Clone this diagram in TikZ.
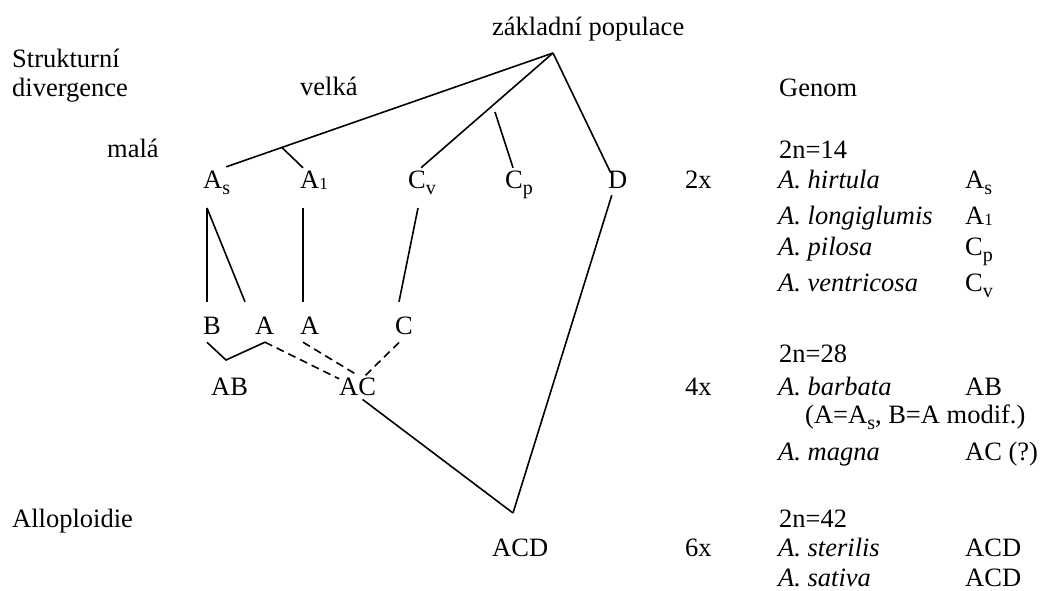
\documentclass[tikz,border=0pt]{standalone}
\usepackage{fontspec}
\setmainfont{Liberation Serif}
\usetikzlibrary{calc}
\newcommand{\gen}[2]{#1\raisebox{-6.5pt}{\fontsize{20}{20}\selectfont #2}}
\newcommand{\Aeins}{A\raisebox{-1.5pt}{\fontsize{17}{17}\selectfont 1}}

\begin{document}
\begin{tikzpicture}[x=1pt, y=-1pt,
        txt/.style={anchor=base west, inner sep=0pt, font=\fontsize{26.5}{30}\selectfont},
        spec/.style={txt, font=\fontsize{26.5}{30}\selectfont\itshape},
        edge/.style={line width=1.6pt},
        hybrid/.style={edge, dash pattern=on 8pt off 5pt}
    ]
        \useasboundingbox (0,0) rectangle (1045,590);

        % headings
        \node[txt] (zakl) at (492,35) {základní populace};
        \node[txt] (strukt) at (12,67) {Strukturní};
        \node[txt] (diverg) at (12,96) {divergence};
        \node[txt] (velka) at (300,95) {velká};
        \node[txt] (mala) at (107,157) {malá};
        \node[txt] (allo) at (12,527) {Alloploidie};
        \node[txt] (genom) at (779,96) {Genom};

        % diploid row
        \node[txt] (As) at (203,188) {\gen{A}{s}};
        \node[txt] (Aone) at (300,188) {\Aeins};
        \node[txt] (Cv) at (408,188) {\gen{C}{v}};
        \node[txt] (Cp) at (505,188) {\gen{C}{p}};
        \node[txt] (D) at (608,188) {D};

        % intermediate genomes
        \node[txt] (B) at (203,334) {B};
        \node[txt] (Aa) at (255,334) {A};
        \node[txt] (Ab) at (300,334) {A};
        \node[txt] (C) at (395,334) {C};
        \node[txt] (AB) at (211,395) {AB};
        \node[txt] (AC) at (339,395) {AC};
        \node[txt] (ACD) at (492,556) {ACD};

        % ploidy levels
        \node[txt] (twox) at (685,188) {2x};
        \node[txt] (fourx) at (685,395) {4x};
        \node[txt] (sixx) at (685,556) {6x};

        % species list
        \node[txt] (n14) at (779,158) {2n=14};
        \node[spec] (hirt) at (778,188) {A. hirtula};
        \node[txt] (gAs) at (965,188) {\gen{A}{s}};
        \node[spec] (longi) at (778,224) {A. longiglumis};
        \node[txt] (gAone) at (965,224) {\Aeins};
        \node[spec] (pilosa) at (778,255) {A. pilosa};
        \node[txt] (gCp) at (965,255) {\gen{C}{p}};
        \node[spec] (ventr) at (778,291) {A. ventricosa};
        \node[txt] (gCv) at (965,291) {\gen{C}{v}};
        \node[txt] (n28) at (779,362) {2n=28};
        \node[spec] (barb) at (778,395) {A. barbata};
        \node[txt] (gAB) at (965,395) {AB};
        \node[txt] (poznamka) at (805,423) {(A=\gen{A}{s}, B=A modif.)};
        \node[spec] (magna) at (778,460) {A. magna};
        \node[txt] (gAC) at (965,460) {AC (?)};
        \node[txt] (n42) at (779,527) {2n=42};
        \node[spec] (steril) at (778,556) {A. sterilis};
        \node[txt] (gACDa) at (965,556) {ACD};
        \node[spec] (sativa) at (778,586) {A. sativa};
        \node[txt] (gACDb) at (965,586) {ACD};

        % tree
        \coordinate (apex) at (553,53);
        \coordinate (cptop) at (495,112);
        \coordinate (meet) at (513,513);
        \coordinate (brk) at (226,360);

        \draw[edge] (apex) -- coordinate[pos=0.83] (fork) ([xshift=-4pt,yshift=3.5pt]As.north east);
        \draw[edge] (fork) -- ([xshift=3pt,yshift=2.5pt]Aone.north west);
        \draw[edge] (apex) -- ([xshift=-1pt,yshift=2.5pt]Cv.north);
        \draw[edge] (cptop) -- ([xshift=-6pt,yshift=2.5pt]Cp.north);
        \draw[edge] (apex) -- ([xshift=-7pt,yshift=-2.5pt]D.north);
        \draw[edge] ([xshift=-6pt,yshift=-7pt]D.south) -- (meet);
        \draw[edge] ([xshift=5pt,yshift=-4pt]AC.south) -- (meet);

        \draw[edge] ([xshift=4pt,yshift=-20pt]As.base west) -- ([xshift=4pt,yshift=14.5pt]B.north west);
        \draw[edge] ([xshift=4pt,yshift=-20pt]As.base west) -- ([xshift=-10pt,yshift=14.5pt]Aa.north west);
        \draw[edge] ([xshift=3pt,yshift=-20pt]Aone.base west) -- ([xshift=3pt,yshift=14.5pt]Ab.north west);
        \draw[edge] ([xshift=10pt,yshift=-20pt]Cv.base west) -- ([xshift=4pt,yshift=14.5pt]C.north west);

        \draw[edge] ([xshift=4pt,yshift=-8pt]B.south west) -- (brk) -- ([xshift=10pt,yshift=-8pt]Aa.south west);
        \draw[hybrid] ([xshift=10pt,yshift=-8pt]Aa.south west) -- ([yshift=-1.5pt]AC.north west);
        \draw[hybrid] ([xshift=3pt,yshift=-8pt]Ab.south west) -- ([yshift=2pt]AC.north);
        \draw[hybrid] ([xshift=-5pt,yshift=-8pt]C.south) -- ([xshift=8pt,yshift=2pt]AC.north);
    \end{tikzpicture}
\end{document}
